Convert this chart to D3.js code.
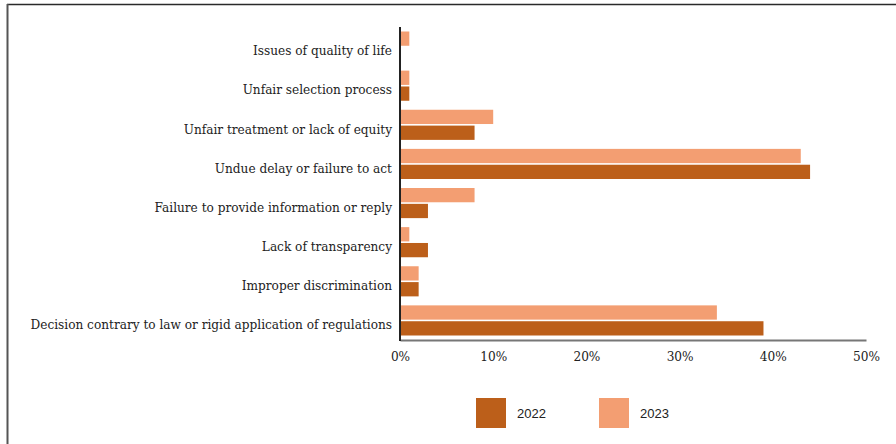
<!DOCTYPE html>
<html>
<head>
<meta charset="utf-8">
<script src="https://cdn.jsdelivr.net/npm/d3@7/dist/d3.min.js"></script>
<style>
  html, body { margin: 0; padding: 0; background: #fff; }
  svg { display: block; }
</style>
</head>
<body>
<svg id="chart" width="896" height="444"></svg>
<script>
// Complaint categories, top to bottom
const categories = [
  "Issues of quality of life",
  "Unfair selection process",
  "Unfair treatment or lack of equity",
  "Undue delay or failure to act",
  "Failure to provide information or reply",
  "Lack of transparency",
  "Improper discrimination",
  "Decision contrary to law or rigid application of regulations"
];
// Share of complaints (%) per year
const values2022 = [0, 1, 8, 44, 3, 3, 2, 39];
const values2023 = [1, 1, 10, 43, 8, 1, 2, 34];
const years = ["2023", "2022"];
const xTicks = [0, 10, 20, 30, 40, 50];

const colors = { "2022": "#bc5f1a", "2023": "#f39e72" };
const serif = "'DejaVu Serif Condensed', 'DejaVu Serif', serif";
const sans = "'Liberation Sans', Arial, sans-serif";

const svg = d3.select("#chart");

// Frame along the top and left edges
svg.append("line").attr("x1", 7).attr("x2", 896).attr("y1", 4.5).attr("y2", 4.5)
  .attr("stroke", "#2a2a2a").attr("stroke-width", 1.5);
svg.append("line").attr("x1", 7.5).attr("x2", 7.5).attr("y1", 4).attr("y2", 444)
  .attr("stroke", "#555").attr("stroke-width", 2);

const x = d3.scaleLinear().domain([0, 50]).range([400, 866]);
const y = d3.scaleBand().domain(categories).range([27, 340])
  .paddingInner(0.23).paddingOuter(0.115);
const ySub = d3.scaleBand().domain(years).range([0, y.bandwidth()]).paddingInner(0.1);

const rows = categories.map((c, i) => ({ cat: c, "2022": values2022[i], "2023": values2023[i] }));

const g = svg.append("g");
g.selectAll("g.row").data(rows).join("g").attr("class", "row")
  .attr("transform", d => `translate(0,${y(d.cat)})`)
  .selectAll("rect").data(d => years.map(k => ({ key: k, value: d[k] }))).join("rect")
  .attr("x", x(0))
  .attr("y", d => ySub(d.key))
  .attr("width", d => x(d.value) - x(0))
  .attr("height", ySub.bandwidth())
  .attr("fill", d => colors[d.key]);

// Category labels
const labels = svg.append("g").selectAll("text").data(categories).join("text")
  .attr("x", 392)
  .attr("y", d => y(d) + y.bandwidth() / 2 + 4)
  .attr("dy", "0.35em")
  .attr("text-anchor", "end")
  .attr("font-family", serif)
  .attr("font-size", 13)
  .attr("fill", "#222")
  .text(d => d);
// Size the labels so the longest one spans the available width
const longest = labels.nodes().reduce((a, n) => Math.max(a, n.getComputedTextLength()), 0);
const labelSize = 13 * 362 / longest;
labels.attr("font-size", labelSize);

// X axis
const xAxis = svg.append("g").attr("transform", "translate(0,340)")
  .call(d3.axisBottom(x).tickValues(xTicks).tickFormat(d => d + "%").tickSize(0).tickPadding(11));
xAxis.select(".domain").attr("stroke", "#777").attr("stroke-width", 2);
xAxis.selectAll("text").attr("font-family", serif).attr("font-size", labelSize).attr("fill", "#222");

// Y axis line
svg.append("line").attr("x1", 400).attr("x2", 400).attr("y1", 27).attr("y2", 341)
  .attr("stroke", "#222").attr("stroke-width", 2);

// Legend
const legendItems = [{ key: "2022", x: 476 }, { key: "2023", x: 599 }];
const legend = svg.append("g").selectAll("g").data(legendItems).join("g")
  .attr("transform", d => `translate(${d.x},398)`);
legend.append("rect").attr("width", 30).attr("height", 30).attr("fill", d => colors[d.key]);
legend.append("text").attr("x", 41).attr("y", 15).attr("dy", "0.35em")
  .attr("font-family", sans).attr("font-size", 13).attr("fill", "#222")
  .text(d => d.key);
</script>
</body>
</html>
